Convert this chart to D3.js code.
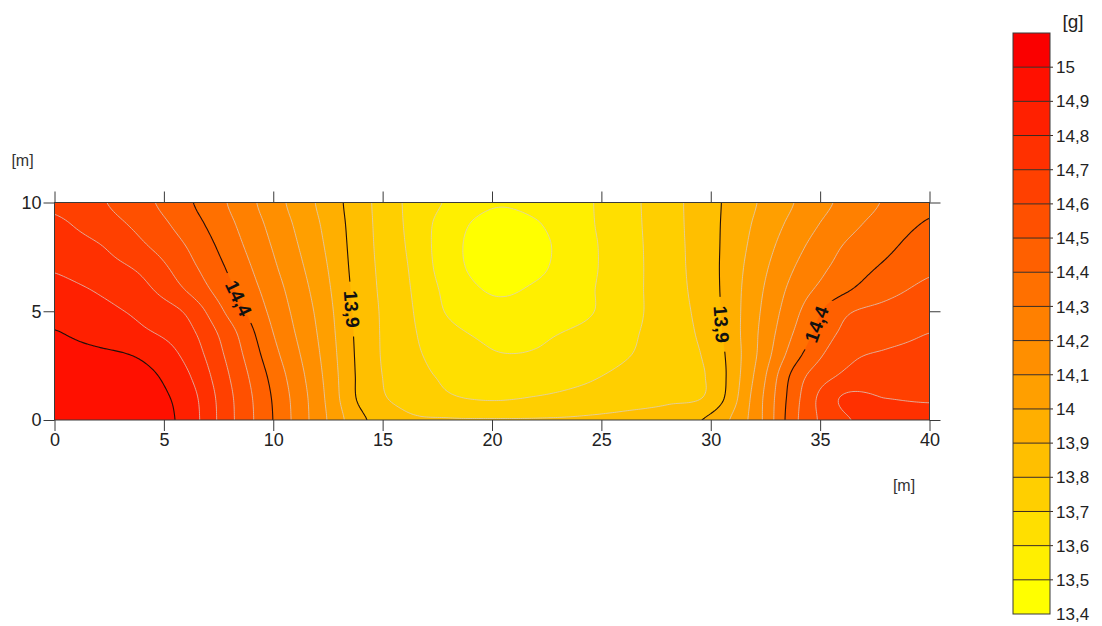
<!DOCTYPE html>
<html><head><meta charset="utf-8">
<script src="https://cdn.jsdelivr.net/npm/d3@7"></script>
<style>
body{margin:0;background:#fff;}
svg{display:block;font-family:Arial,"Liberation Sans",sans-serif;}
</style>
</head><body>
<svg id="chart" width="1102" height="626"></svg>
<script>
// ---------- data (grid x every 2 m, y every 1 m) ----------
const gridX = [0,2,4,6,8,10,12,14,16,18,20,22,24,26,28,30,32,34,36,38,40];
const gridY = [0,1,2,3,4,5,6,7,8,9,10];
const zY0  = [14.98,14.97,14.955,14.866,14.626,14.398,14.156,13.922,13.82,13.806,13.805,13.805,13.81,13.825,13.855,13.924,14.142,14.5,14.683,14.718,14.74];
const zY1  = [14.97,14.962,14.945,14.855,14.621,14.39,14.148,13.878,13.769,13.713,13.69,13.707,13.731,13.755,13.779,13.827,14.133,14.488,14.708,14.70,14.69];
const zY2  = [14.95,14.943,14.93,14.82,14.6,14.368,14.133,13.874,13.749,13.684,13.645,13.65,13.68,13.722,13.763,13.818,14.108,14.46,14.614,14.637,14.66];
const zY3  = [14.93,14.918,14.885,14.778,14.571,14.333,14.116,13.87,13.737,13.66,13.607,13.607,13.64,13.69,13.747,13.831,14.085,14.38,14.564,14.612,14.63];
const zY4  = [14.905,14.863,14.817,14.737,14.538,14.3,14.1,13.866,13.733,13.628,13.58,13.585,13.617,13.677,13.745,13.848,14.08,14.327,14.515,14.559,14.60];
const zY5  = [14.867,14.828,14.776,14.688,14.473,14.271,14.085,13.861,13.729,13.59,13.53,13.54,13.575,13.66,13.748,13.858,14.071,14.29,14.475,14.529,14.562];
const zY6  = [14.829,14.791,14.728,14.596,14.42,14.245,14.067,13.855,13.721,13.572,13.49,13.513,13.572,13.657,13.753,13.865,14.06,14.25,14.377,14.466,14.522];
const zY7  = [14.791,14.742,14.679,14.541,14.384,14.217,14.048,13.849,13.713,13.548,13.454,13.481,13.562,13.654,13.755,13.869,14.045,14.213,14.332,14.417,14.484];
const zY8  = [14.752,14.707,14.615,14.5,14.35,14.192,14.029,13.845,13.703,13.542,13.445,13.473,13.561,13.655,13.756,13.87,14.027,14.178,14.3,14.377,14.45];
const zY9  = [14.72,14.652,14.569,14.456,14.32,14.168,14.012,13.842,13.696,13.552,13.466,13.492,13.57,13.659,13.758,13.871,14.01,14.142,14.258,14.342,14.41];
const zY10 = [14.68,14.615,14.531,14.421,14.292,14.143,13.994,13.838,13.693,13.587,13.51,13.526,13.575,13.662,13.759,13.871,13.993,14.111,14.221,14.311,14.38];
const rows = [zY0,zY1,zY2,zY3,zY4,zY5,zY6,zY7,zY8,zY9,zY10];

const levels = [13.4,13.5,13.6,13.7,13.8,13.9,14.0,14.1,14.2,14.3,14.4,14.5,14.6,14.7,14.8,14.9,15.0];
const majorLevels = [13.9,14.4,14.9];
const xTicks = [0,5,10,15,20,25,30,35,40];
const yTicks = [0,5,10];
const labelLevels = [14.4,13.9,13.9,14.4];
const labelNear = [[8.4,5.6],[13.45,5.1],[30.5,4.4],[35.1,4.3]];
const bandColors = ["#ffff00","#ffef00","#ffdf00","#ffcf00","#ffbf00","#ffaf00","#ff9f00","#ff8f00",
                    "#ff8000","#ff7000","#ff6000","#ff5000","#ff4000","#ff3000","#ff2000","#ff1000","#fa0000"];

// ---------- layout ----------
const svg = d3.select("#chart");
const x = d3.scaleLinear([0,40],[54.5,929.5]);
const y = d3.scaleLinear([0,10],[420,202.5]);
const cb = d3.scaleLinear([13.4,15.1],[614,33]);
const fmt = d3.formatLocale({decimal:",",thousands:".",grouping:[3],currency:["",""]}).format("~g");

// ---------- upsample the grid (Catmull-Rom) ----------
const dxg = gridX[1]-gridX[0], dyg = gridY[1]-gridY[0];
function cr(p0,p1,p2,p3,t){return p1+0.5*t*(p2-p0+t*(2*p0-5*p1+4*p2-p3+t*(3*(p1-p2)+p3-p0)));}
function sample(xv,yv){
  const gx=xv/dxg, gy=yv/dyg;
  const i=Math.min(Math.floor(gx),gridX.length-2), j=Math.min(Math.floor(gy),gridY.length-2);
  const tx=gx-i, ty=gy-j;
  const R=k=>rows[Math.max(0,Math.min(rows.length-1,k))];
  const A=(r,k)=>r[Math.max(0,Math.min(r.length-1,k))];
  const v=[];
  for(let d=-1;d<=2;d++){const r=R(j+d);v.push(cr(A(r,i-1),A(r,i),A(r,i+1),A(r,i+2),tx));}
  return cr(v[0],v[1],v[2],v[3],ty);
}
const step=0.1, NX=Math.round(40/step)+1, NY=Math.round(10/step)+1;
const values=new Float64Array(NX*NY);
for(let jj=0;jj<NY;jj++){for(let ii=0;ii<NX;ii++){values[jj*NX+ii]=sample(ii*step,10-jj*step);}}
const contours=d3.contours().size([NX,NY]).thresholds(levels.slice(1))(values);

const gx2px=px=>x((px-0.5)*step), gy2px=py=>y(10-(py-0.5)*step);
const path=d3.geoPath(d3.geoTransform({point(px,py){this.stream.point(gx2px(px),gy2px(py));}}));

// ---------- defs ----------
const defs=svg.append("defs");
defs.append("clipPath").attr("id","plotclip").append("rect")
  .attr("x",x(0)).attr("y",y(10)).attr("width",x(40)-x(0)).attr("height",y(0)-y(10));
const mask=defs.append("mask").attr("id","lblmask").attr("maskUnits","userSpaceOnUse")
  .attr("x",0).attr("y",0).attr("width",1102).attr("height",626);
mask.append("rect").attr("width",1102).attr("height",626).attr("fill","#fff");

// ---------- filled contours ----------
const fillG=svg.append("g").attr("clip-path","url(#plotclip)");
fillG.append("rect").attr("x",x(0)).attr("y",y(10)).attr("width",x(40)-x(0)).attr("height",y(0)-y(10)).attr("fill",bandColors[0]);
fillG.selectAll("path.band").data(contours).join("path").attr("class","band")
  .attr("d",path).attr("fill",(d,i)=>bandColors[i+1]).attr("stroke",(d,i)=>bandColors[i+1]).attr("stroke-width",0.3);

// ---------- contour lines ----------
const isMajor=v=>majorLevels.some(m=>Math.abs(m-v)<1e-6);
const lineOuter=svg.append("g").attr("clip-path","url(#plotclip)");
const lineG=lineOuter.append("g").attr("mask","url(#lblmask)");
lineG.selectAll("path").data(contours).join("path")
  .attr("d",path).attr("fill","none")
  .attr("stroke",d=>isMajor(d.value)?"#22100a":"#d8d0c8")
  .attr("stroke-opacity",d=>isMajor(d.value)?1:0.75)
  .attr("stroke-width",d=>isMajor(d.value)?1.1:1);

// ---------- contour labels ----------
const labelG=svg.append("g");
labelLevels.forEach((lv,li)=>{
  const c=contours.find(d=>Math.abs(d.value-lv)<1e-6);
  const tx=x(labelNear[li][0]), ty=y(labelNear[li][1]);
  let best=null;
  c.coordinates.forEach(poly=>poly.forEach(ring=>{
    const pts=ring.map(p=>[gx2px(p[0]),gy2px(p[1]),p]);
    pts.forEach((p,k)=>{
      const g=p[2];
      if(g[0]<=0.01||g[0]>=NX-0.01||g[1]<=0.01||g[1]>=NY-0.01) return;
      const d2=(p[0]-tx)**2+(p[1]-ty)**2;
      if(!best||d2<best.d2) best={d2,k,pts};
    });
  }));
  if(!best) return;
  const n=best.pts.length, a=best.pts[(best.k-4+n)%n], b=best.pts[(best.k+4)%n], p=best.pts[best.k];
  let ang=Math.atan2(b[1]-a[1],b[0]-a[0])*180/Math.PI;
  if(ang>90) ang-=180; if(ang<=-90) ang+=180;
  const t=labelG.append("text").attr("transform",`translate(${p[0]},${p[1]}) rotate(${ang})`)
    .attr("text-anchor","middle").attr("dy","0.36em")
    .style("font-size","19px").style("font-weight","bold").attr("fill","#111").text(fmt(lv));
  const w=t.node().getComputedTextLength()+18;
  mask.append("rect").attr("x",-w/2).attr("y",-10).attr("width",w).attr("height",20)
    .attr("transform",`translate(${p[0]},${p[1]}) rotate(${ang})`).attr("fill","#000");
});

// ---------- frame & axes ----------
svg.append("rect").attr("x",x(0)).attr("y",y(10)).attr("width",x(40)-x(0)).attr("height",y(0)-y(10))
  .attr("fill","none").attr("stroke","#3a3a3a").attr("stroke-width",1);
function styleAxis(g){
  g.select(".domain").remove();
  g.selectAll(".tick line").attr("stroke","#3a3a3a");
  g.selectAll(".tick text").attr("fill","#222").style("font-size","18px").style("font-family","Arial,'Liberation Sans',sans-serif");
}
svg.append("g").attr("transform",`translate(0,${y(0)})`)
  .call(d3.axisBottom(x).tickValues(xTicks).tickSize(11).tickSizeOuter(0).tickPadding(2).tickFormat(fmt)).call(styleAxis);
svg.append("g").attr("transform",`translate(0,${y(10)})`)
  .call(d3.axisTop(x).tickValues(xTicks).tickSize(11).tickSizeOuter(0).tickFormat("")).call(styleAxis);
svg.append("g").attr("transform",`translate(${x(0)},0)`)
  .call(d3.axisLeft(y).tickValues(yTicks).tickSize(11).tickSizeOuter(0).tickPadding(2).tickFormat(fmt)).call(styleAxis);
svg.append("g").attr("transform",`translate(${x(40)},0)`)
  .call(d3.axisRight(y).tickValues(yTicks).tickSize(11).tickSizeOuter(0).tickFormat("")).call(styleAxis);

svg.append("text").attr("x",22.5).attr("y",166).attr("text-anchor","middle")
  .style("font-size","16px").attr("fill","#333").text("[m]");
svg.append("text").attr("x",904).attr("y",491).attr("text-anchor","middle")
  .style("font-size","16px").attr("fill","#333").text("[m]");

// ---------- colour bar ----------
const cbX=1013, cbW=37;
const cbG=svg.append("g");
const bandTops=levels.map((v,i)=>i<levels.length-1?levels[i+1]:15.1);
cbG.selectAll("rect.cb").data(levels).join("rect").attr("class","cb")
  .attr("x",cbX).attr("width",cbW)
  .attr("y",(d,i)=>cb(bandTops[i])).attr("height",(d,i)=>cb(d)-cb(bandTops[i]))
  .attr("fill",(d,i)=>bandColors[i]);
cbG.selectAll("line.cbl").data(levels.slice(1)).join("line").attr("class","cbl")
  .attr("x1",cbX).attr("x2",cbX+cbW+3).attr("y1",d=>cb(d)).attr("y2",d=>cb(d))
  .attr("stroke","#3a2a20").attr("stroke-width",1);
cbG.append("rect").attr("x",cbX).attr("y",cb(15.1)).attr("width",cbW).attr("height",cb(13.4)-cb(15.1))
  .attr("fill","none").attr("stroke","#3a3a3a");
cbG.selectAll("text.cbt").data(levels).join("text").attr("class","cbt")
  .attr("x",cbX+cbW+6).attr("y",d=>cb(d)).attr("dy","0.36em")
  .style("font-size","17px").attr("fill","#222").text(d=>fmt(d));
svg.append("text").attr("x",1073).attr("y",28).attr("text-anchor","middle")
  .style("font-size","19px").attr("fill","#222").text("[g]");
</script>
</body></html>
